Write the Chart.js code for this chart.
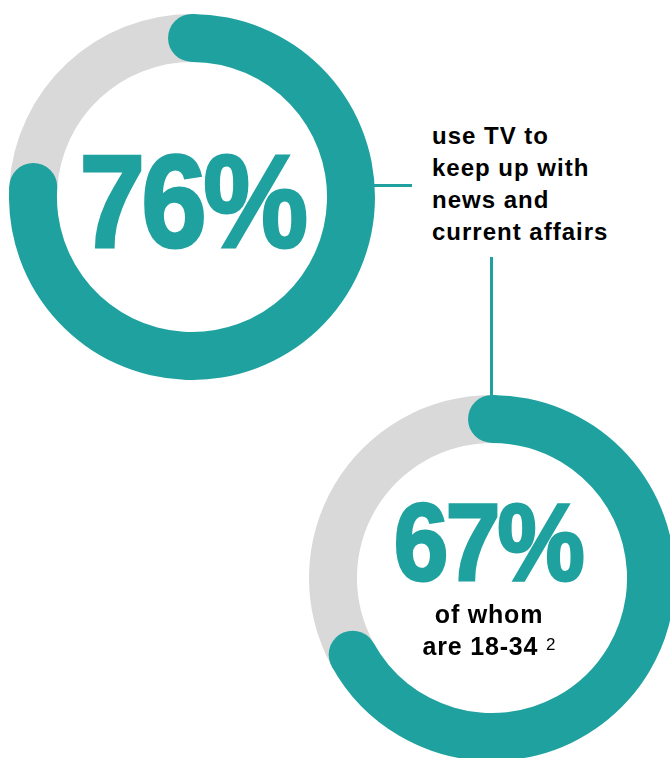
<!DOCTYPE html>
<html>
<head>
<meta charset="utf-8">
<script src="https://cdn.jsdelivr.net/npm/chart.js@4/dist/chart.umd.min.js"></script>
<style>
  html, body { margin: 0; padding: 0; background: #fff; overflow: hidden; }
  #page { position: relative; width: 670px; height: 758px; overflow: hidden; background: #fff;
          font-family: "Liberation Sans", Arial, Helvetica, sans-serif; }
  .ring { position: absolute; width: 366px; height: 366px; }
  .ring canvas { display: block; }
  .big { position: absolute; text-align: center; color: #1fa29f; font-weight: 700;
         white-space: nowrap; -webkit-text-stroke: 3px #1fa29f; }
  .txt { position: absolute; color: #000; font-weight: 700; white-space: nowrap; }
  .line { position: absolute; background: #1fa29f; }
</style>
</head>
<body>
<div id="page">
  <div class="line" style="left:372px; top:184px; width:40px; height:3px;"></div>
  <div class="line" style="left:490px; top:257px; width:3px; height:150px;"></div>

  <div class="ring" style="left:9px; top:14px;"><canvas id="c1" width="366" height="366"></canvas></div>
  <div class="ring" style="left:309px; top:395px;"><canvas id="c2" width="366" height="366"></canvas></div>

  <div class="big" id="t1" style="left:-8px; top:136px; width:400px; font-size:131px; line-height:131px; letter-spacing:-4px; transform:scaleX(0.9);">76%</div>
  <div class="big" id="t2" style="left:288px; top:488px; width:400px; font-size:109px; line-height:109px; letter-spacing:-3px; transform:scaleX(0.9);">67%</div>

  <div class="txt" style="left:432px; top:120px; font-size:24px; line-height:32px; letter-spacing:1px;">use TV to<br>keep up with<br>news and<br>current affairs</div>

  <div class="txt" style="left:289px; top:598px; width:400px; text-align:center; font-size:25px; line-height:32px; letter-spacing:0.8px;">of whom<br>are 18-34 <span style="font-weight:400; font-size:17px; position:relative; top:-5px; letter-spacing:0;">2</span></div>
</div>
<script>
// ---- data ----
const segmentLabels = ['Yes', 'Other'];
const tvNewsShare = [76, 24];       // % who use TV to keep up with news and current affairs
const youngShare = [67, 33];        // % of whom are 18-34

const TEAL = '#1fa29f';
const GREY = '#d9d9d9';

const roundCaps = {
  id: 'roundCaps',
  afterDatasetsDraw(chart) {
    const meta = chart.getDatasetMeta(0);
    const arc = meta.data[0];
    if (!arc) return;
    const p = arc.getProps(['x', 'y', 'startAngle', 'endAngle', 'innerRadius', 'outerRadius'], true);
    const mid = (p.innerRadius + p.outerRadius) / 2;
    const r = (p.outerRadius - p.innerRadius) / 2;
    const ctx = chart.ctx;
    ctx.save();
    ctx.fillStyle = TEAL;
    [p.startAngle, p.endAngle].forEach(a => {
      ctx.beginPath();
      ctx.arc(p.x + mid * Math.cos(a), p.y + mid * Math.sin(a), r, 0, Math.PI * 2);
      ctx.fill();
    });
    ctx.restore();
  }
};

function makeRing(id, values) {
  return new Chart(document.getElementById(id), {
    type: 'doughnut',
    data: {
      labels: segmentLabels,
      datasets: [{
        data: values,
        backgroundColor: [TEAL, GREY],
        borderWidth: 0,
        hoverOffset: 0
      }]
    },
    options: {
      responsive: false,
      animation: false,
      cutout: '73.8%',
      rotation: 0,
      layout: { padding: 0 },
      plugins: { legend: { display: false }, tooltip: { enabled: false } },
      events: []
    },
    plugins: [roundCaps]
  });
}

makeRing('c1', tvNewsShare);
makeRing('c2', youngShare);
</script>
</body>
</html>
